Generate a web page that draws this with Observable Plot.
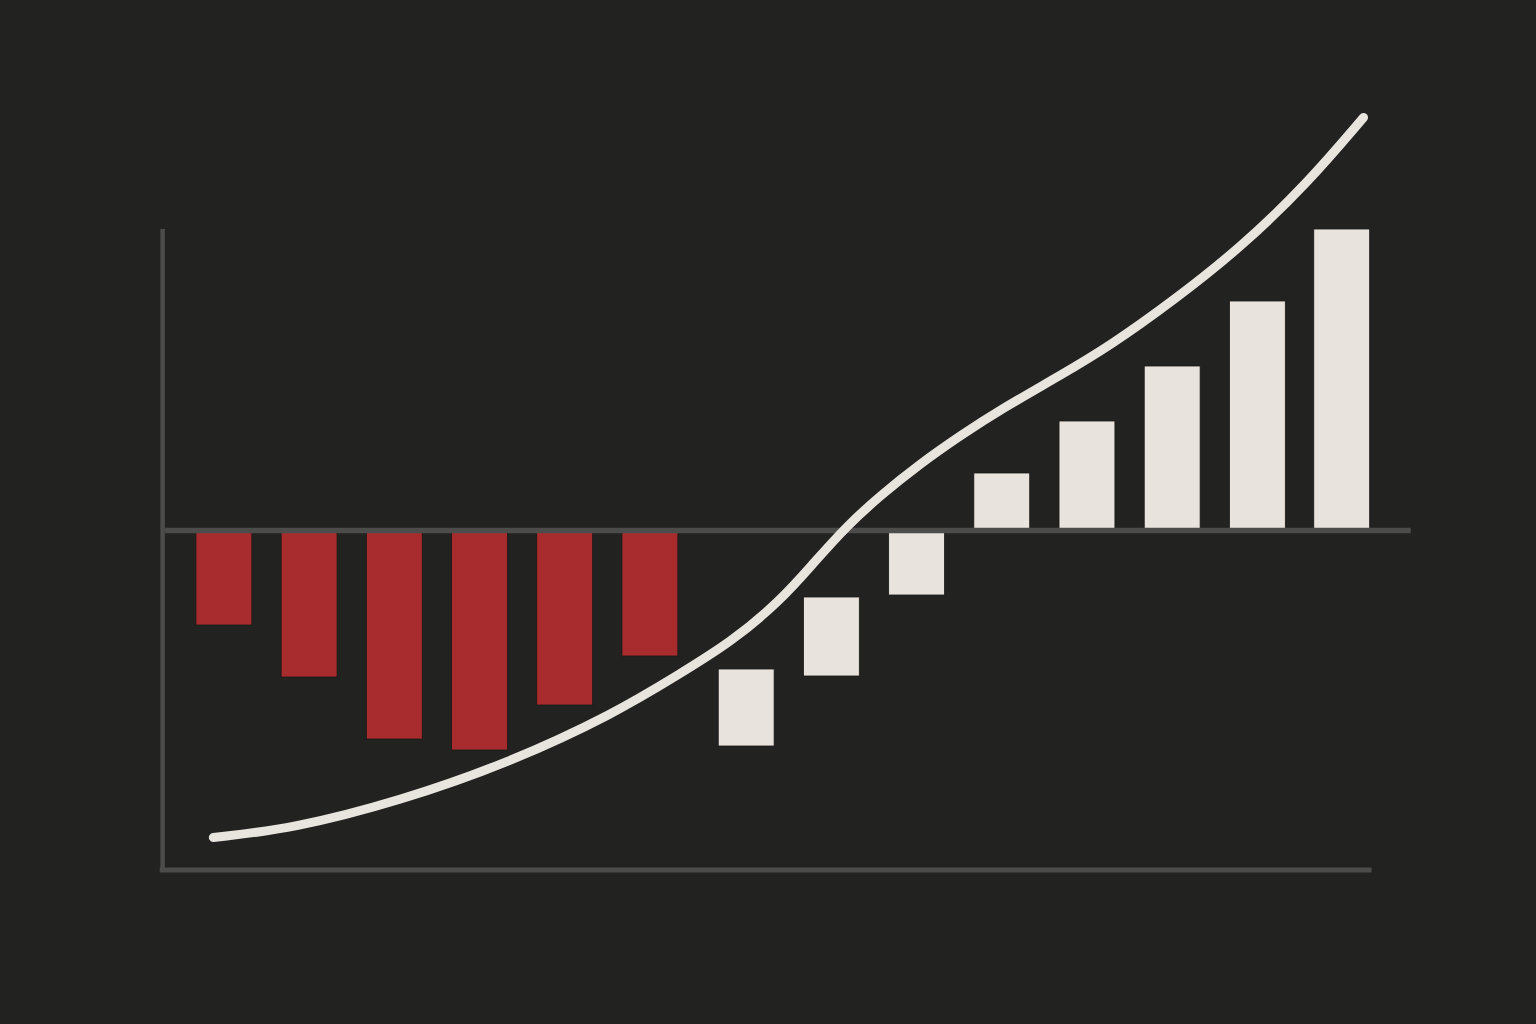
<!DOCTYPE html>
<html>
<head>
<meta charset="utf-8">
<script src="https://cdn.jsdelivr.net/npm/d3@7"></script>
<script src="https://cdn.jsdelivr.net/npm/@observablehq/plot@0.6"></script>
<style>
  html, body { margin: 0; padding: 0; background: #222220; }
  #chart { width: 1536px; height: 1024px; }
</style>
</head>
<body>
<div id="chart"></div>
<script>
// Bar positions (period index) and values (start / end)
const barX     = [0, 1, 2, 3, 4, 5, 6.13, 7.13, 8.13, 9.13, 10.13, 11.13, 12.13, 13.12];
const barStart = [0, 0, 0, 0, 0, 0, -13.9, -6.7, 0, 0, 0, 0, 0, 0];
const barEnd   = [-9.5, -14.7, -20.9, -22.0, -17.5, -12.6, -21.6, -14.6, -6.5, 5.7, 10.9, 16.4, 22.9, 30.1];
const barGroup = ["neg", "neg", "neg", "neg", "neg", "neg", "pos", "pos", "pos", "pos", "pos", "pos", "pos", "pos"];

// Trend curve
const curveX = [-0.13, 0.81, 2.07, 3.32, 4.58, 5.35, 5.94, 6.53, 6.91, 7.31, 7.70, 8.17, 8.64, 9.11, 9.81, 10.40, 11.14, 11.93, 12.71, 13.37];
const curveY = [-30.7, -29.8, -27.0, -23.3, -18.3, -14.3, -11.2, -7.0, -3.3, 0.5, 3.5, 6.7, 9.5, 12.1, 15.5, 18.5, 23.0, 28.3, 34.7, 41.3];

// Axis-line extents (data units)
const axisLeftX = -0.725;
const axisTopY = 30.1;
const axisBottomY = -33.95;
const axisBottomEndX = 13.47;
const baselineStartX = -0.69;
const baselineEndX = 13.93;

const halfWidth = 0.328;

const bars = barX.map((x, i) => ({x, y1: barStart[i], y2: barEnd[i], g: barGroup[i]}));
const curve = curveX.map((x, i) => ({x, y: curveY[i]}));

const plot = Plot.plot({
  width: 1536,
  height: 1024,
  marginLeft: 160,
  marginRight: 119.3,
  marginTop: 110,
  marginBottom: 154,
  style: {background: "#222220"},
  x: {domain: [-0.75, 14], axis: null},
  y: {domain: [-34, 42], axis: null},
  color: {domain: ["neg", "pos"], range: ["#a82c2e", "#e8e3dd"]},
  marks: [
    Plot.rect(bars, {
      x1: d => d.x - halfWidth,
      x2: d => d.x + halfWidth,
      y1: "y1",
      y2: "y2",
      fill: "g",
      stroke: "#1a1a18",
      strokeWidth: 0.8
    }),
    Plot.ruleX([axisLeftX], {y1: axisBottomY, y2: axisTopY, stroke: "#4c4c4a", strokeWidth: 4.5}),
    Plot.ruleY([axisBottomY], {x1: axisLeftX - 0.028, x2: axisBottomEndX, stroke: "#4c4c4a", strokeWidth: 5}),
    Plot.ruleY([0], {x1: baselineStartX, x2: baselineEndX, stroke: "#4c4c4a", strokeWidth: 5.5}),
    Plot.line(curve, {
      x: "x",
      y: "y",
      curve: "basis",
      stroke: "#e8e4de",
      strokeWidth: 9,
      strokeLinecap: "round",
      strokeLinejoin: "round"
    })
  ]
});
document.getElementById("chart").appendChild(plot);
</script>
</body>
</html>
